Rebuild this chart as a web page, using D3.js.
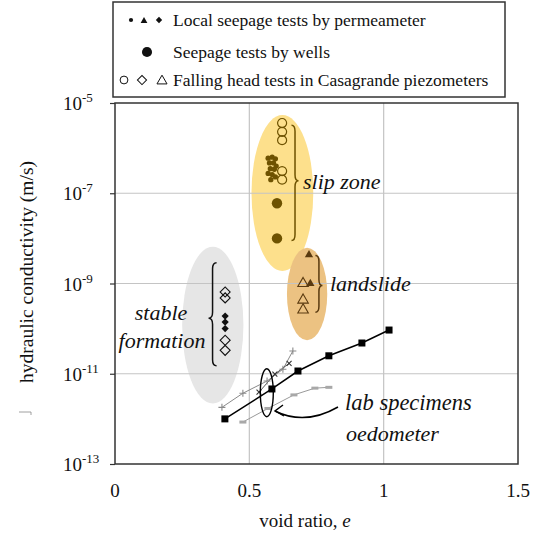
<!DOCTYPE html>
<html>
<head>
<meta charset="utf-8">
<script src="https://cdn.jsdelivr.net/npm/d3@7"></script>
<style>
  html, body { margin: 0; padding: 0; background: #fff; }
  svg, svg text { font-family: "Liberation Serif", "Times New Roman", Times, serif; }
  svg { display: block; }
</style>
</head>
<body>
<svg id="chart" width="537" height="533"></svg>
<script>
// ---- data: void ratio e and hydraulic conductivity k (m/s) ----
const xTicks = [0, 0.5, 1, 1.5];
const xTickLabels = ["0", "0.5", "1", "1.5"];
const yTicks = [1e-5, 1e-7, 1e-9, 1e-11, 1e-13];
const yTickExponents = ["-5", "-7", "-9", "-11", "-13"];

// slip zone
const slipPermeameterE = [0.570, 0.585, 0.597, 0.575, 0.590, 0.600, 0.578, 0.593, 0.570, 0.585, 0.580, 0.597];
const slipPermeameterK = [6.0e-7, 6.3e-7, 5.8e-7, 4.7e-7, 4.7e-7, 4.0e-7, 3.5e-7, 3.4e-7, 2.75e-7, 2.6e-7, 2.0e-7, 2.3e-7];
const slipWellsE = [0.603, 0.603];
const slipWellsK = [6.0e-8, 1.0e-8];
const slipPiezoE = [0.622, 0.622, 0.622, 0.622, 0.622];
const slipPiezoK = [3.6e-6, 2.3e-6, 1.5e-6, 3.1e-7, 2.0e-7];

// landslide body
const slidePermeameterE = [0.722, 0.727];
const slidePermeameterK = [4.3e-9, 1.0e-9];
const slidePiezoE = [0.700, 0.700, 0.700];
const slidePiezoK = [1.0e-9, 4.3e-10, 2.6e-10];

// stable formation
const stablePermeameterE = [0.41, 0.41, 0.41];
const stablePermeameterK = [1.9e-10, 1.4e-10, 1.0e-10];
const stablePiezoE = [0.41, 0.41, 0.41, 0.41];
const stablePiezoK = [6.5e-10, 4.8e-10, 5.5e-11, 3.3e-11];

// oedometer tests on lab specimens
const oedoAE = [0.409, 0.584, 0.681, 0.796, 0.919, 1.02];
const oedoAK = [1.0e-12, 4.6e-12, 1.15e-11, 2.5e-11, 4.8e-11, 9.3e-11];
const oedoBE = [0.476, 0.569, 0.666, 0.744, 0.796];
const oedoBK = [8.5e-13, 1.7e-12, 3.4e-12, 4.8e-12, 5.0e-12];
const oedoCE = [0.398, 0.476, 0.566, 0.625, 0.662];
const oedoCK = [1.8e-12, 3.7e-12, 6.9e-12, 1.26e-11, 3.2e-11];
const oedoDE = [0.536, 0.595, 0.648];
const oedoDK = [3.9e-12, 9.8e-12, 1.7e-11];

const legendLabels = [
  "Local seepage tests by permeameter",
  "Seepage tests by wells",
  "Falling head tests in Casagrande piezometers"
];

// ---- layout ----
const svg = d3.select("#chart");
const x = d3.scaleLinear().domain([0, 1.5]).range([115, 518]);
const y = d3.scaleLog().domain([1e-13, 1e-5]).range([464, 103]);

const serif = "'Liberation Serif', 'Times New Roman', Times, serif";
const olive = "#6e5200";
const brown = "#5a3a10";
const zip = (a, b) => a.map((v, i) => [v, b[i]]);

// zone ellipses, given by their extent in e and k
function zone(e0, e1, k0, k1, fill) {
  svg.append("ellipse")
    .attr("cx", (x(e0) + x(e1)) / 2).attr("cy", (y(k0) + y(k1)) / 2)
    .attr("rx", Math.abs(x(e1) - x(e0)) / 2)
    .attr("ry", Math.abs(y(k1) - y(k0)) / 2)
    .attr("fill", fill);
}
zone(0.25, 0.478, 6.5e-9, 2.2e-12, "#e6e6e6");
zone(0.508, 0.738, 5.4e-6, 1.9e-9, "#fde08c");
zone(0.64, 0.79, 6.2e-9, 5.5e-11, "#ecc282");

// grid lines
svg.append("g").selectAll("line").data([0.5, 1]).join("line")
  .attr("x1", d => x(d)).attr("x2", d => x(d))
  .attr("y1", y(1e-5)).attr("y2", y(1e-13))
  .attr("stroke", "#c4c4c4").attr("stroke-width", 1.2);
svg.append("g").selectAll("line").data([1e-7, 1e-9, 1e-11]).join("line")
  .attr("x1", x(0)).attr("x2", x(1.5))
  .attr("y1", d => y(d)).attr("y2", d => y(d))
  .attr("stroke", "#c4c4c4").attr("stroke-width", 1.2);

// frame
svg.append("rect")
  .attr("x", x(0)).attr("y", y(1e-5))
  .attr("width", x(1.5) - x(0)).attr("height", y(1e-13) - y(1e-5))
  .attr("fill", "none").attr("stroke", "#333").attr("stroke-width", 1.5);

// y axis ticks
const yAxis = d3.axisLeft(y).tickValues(yTicks).tickSize(5).tickFormat("");
const yg = svg.append("g").attr("transform", `translate(${x(0)},0)`).call(yAxis);
yg.select(".domain").remove();
yg.selectAll("line").attr("stroke", "#333").attr("stroke-width", 1.2);

// y tick labels 10^n
yTicks.forEach((t, i) => {
  const txt = svg.append("text")
    .attr("x", 63).attr("y", y(t) + 7)
    .attr("font-family", serif).attr("font-size", 19).attr("fill", "#111");
  txt.append("tspan").text("10");
  txt.append("tspan").attr("font-size", 13).attr("dy", -8).text(yTickExponents[i]);
});

// x tick labels
svg.append("g").selectAll("text").data(xTicks).join("text")
  .attr("x", d => x(d)).attr("y", 497)
  .attr("font-family", serif)
  .attr("text-anchor", "middle").attr("font-size", 19).attr("fill", "#111")
  .text((d, i) => xTickLabels[i]);

// axis titles
const xt = svg.append("text")
  .attr("x", 305).attr("y", 527).attr("font-family", serif)
  .attr("text-anchor", "middle").attr("font-size", 19).attr("fill", "#111");
xt.append("tspan").text("void ratio, ");
xt.append("tspan").attr("font-style", "italic").text("e");

svg.append("text")
  .attr("transform", "translate(33,272) rotate(-90)").attr("font-family", serif)
  .attr("text-anchor", "middle").attr("font-size", 19.5).attr("fill", "#111")
  .text("hydraulic conductivity (m/s)");
svg.append("path")
  .attr("d", "M19,412 L31,412 L31,415")
  .attr("fill", "none").attr("stroke", "#888").attr("stroke-width", 0.8);

// curly braces
function brace(e, kTop, kBot, kMid, depth, color) {
  const x0 = x(e), y1 = y(kTop), y2 = y(kBot), ym = y(kMid);
  const h = depth / 2, r = 6;
  const d = `M${x0},${y1} Q${x0 + h},${y1} ${x0 + h},${y1 + r} L${x0 + h},${ym - r} ` +
            `Q${x0 + h},${ym} ${x0 + depth},${ym} Q${x0 + h},${ym} ${x0 + h},${ym + r} ` +
            `L${x0 + h},${y2 - r} Q${x0 + h},${y2} ${x0},${y2}`;
  svg.append("path").attr("d", d).attr("fill", "none")
    .attr("stroke", color).attr("stroke-width", 1.5);
}
brace(0.657, 3.2e-6, 9.0e-9, 1.9e-7, 7, olive);
brace(0.746, 4.2e-9, 2.3e-10, 9.0e-10, 7, brown);
brace(0.378, 2.9e-9, 1.5e-11, 1.7e-10, -8, "#111");

// markers
function marks(es, ks, type, size, fill, stroke, sw, rot = 0) {
  svg.append("g").selectAll("path").data(zip(es, ks)).join("path")
    .attr("d", d3.symbol().type(type).size(size))
    .attr("transform", d => `translate(${x(d[0])},${y(d[1])}) rotate(${rot})`)
    .attr("fill", fill).attr("stroke", stroke).attr("stroke-width", sw);
}
marks(slipPiezoE, slipPiezoK, d3.symbolCircle, 64, "none", olive, 1.2);
marks(slipPermeameterE, slipPermeameterK, d3.symbolCircle, 22, olive, "none", 0);
marks(slipWellsE, slipWellsK, d3.symbolCircle, 85, olive, "none", 0);

marks(slidePiezoE, slidePiezoK, d3.symbolTriangle, 48, "none", brown, 1.1);
marks(slidePermeameterE, slidePermeameterK, d3.symbolTriangle, 30, brown, "none", 0);

marks(stablePiezoE, stablePiezoK, d3.symbolSquare, 50, "none", "#111", 1.1, 45);
marks(stablePermeameterE, stablePermeameterK, d3.symbolSquare, 26, "#111", "none", 0, 45);

// oedometer curves
const line = d3.line().x(d => x(d[0])).y(d => y(d[1]));
svg.append("path").attr("d", line(zip(oedoCE, oedoCK)))
  .attr("fill", "none").attr("stroke", "#8a8a8a").attr("stroke-width", 1);
svg.append("path").attr("d", line(zip(oedoDE, oedoDK)))
  .attr("fill", "none").attr("stroke", "#555").attr("stroke-width", 1);
svg.append("path").attr("d", line(zip(oedoBE, oedoBK)))
  .attr("fill", "none").attr("stroke", "#9a9a9a").attr("stroke-width", 1);
svg.append("path").attr("d", line(zip(oedoAE, oedoAK)))
  .attr("fill", "none").attr("stroke", "#000").attr("stroke-width", 1.5);

// thin plus / cross markers
function crossMarks(es, ks, size, color, rot) {
  svg.append("g").selectAll("path").data(zip(es, ks)).join("path")
    .attr("d", `M${-size},0 L${size},0 M0,${-size} L0,${size}`)
    .attr("transform", d => `translate(${x(d[0])},${y(d[1])}) rotate(${rot})`)
    .attr("stroke", color).attr("stroke-width", 1.1).attr("fill", "none");
}
crossMarks(oedoCE, oedoCK, 3.5, "#8a8a8a", 0);
crossMarks(oedoDE, oedoDK, 3.5, "#333", 45);
svg.append("g").selectAll("rect").data(zip(oedoBE, oedoBK)).join("rect")
  .attr("x", d => x(d[0]) - 3.5).attr("y", d => y(d[1]) - 1.5)
  .attr("width", 7).attr("height", 3).attr("fill", "#a8a8a8");
svg.append("g").selectAll("rect").data(zip(oedoAE, oedoAK)).join("rect")
  .attr("x", d => x(d[0]) - 3.5).attr("y", d => y(d[1]) - 3.5)
  .attr("width", 7).attr("height", 7).attr("fill", "#000");

// ellipse grouping the specimens at e ≈ 0.56
svg.append("ellipse")
  .attr("cx", x(0.565)).attr("cy", y(3.8e-12))
  .attr("rx", 6.5).attr("ry", 24)
  .attr("fill", "none").attr("stroke", "#000").attr("stroke-width", 1.4);

// arrow to the specimens
const ax0 = 338, ay0 = 407, ax1 = 275, ay1 = 411;
svg.append("path")
  .attr("d", `M${ax0},${ay0} Q${305},${426} ${ax1},${ay1}`)
  .attr("fill", "none").attr("stroke", "#000").attr("stroke-width", 1.5);
svg.append("path")
  .attr("d", `M${ax1 + 8},${ay1 - 6} L${ax1},${ay1} L${ax1 + 9},${ay1 + 5}`)
  .attr("fill", "none").attr("stroke", "#000").attr("stroke-width", 1.4);

// zone labels
function label(px, py, txt, anchor = "start", size = 22) {
  svg.append("text").attr("x", px).attr("y", py).attr("font-family", serif)
    .attr("text-anchor", anchor).attr("font-size", size).attr("font-style", "italic")
    .attr("fill", "#111").text(txt);
}
label(303, 189, "slip zone");
label(330, 291, "landslide");
label(161, 320, "stable", "middle");
label(162, 348, "formation", "middle");
label(345, 410, "lab specimens", "start", 22.5);
label(346, 441, "oedometer");

// legend
const lg = svg.append("g");
lg.append("rect").attr("x", 113).attr("y", 2).attr("width", 392).attr("height", 95)
  .attr("fill", "#fff").attr("stroke", "#333").attr("stroke-width", 1.5);
const rowsY = [20, 52, 80];
legendLabels.forEach((t, i) => {
  lg.append("text").attr("x", 173).attr("y", rowsY[i] + 6).attr("font-family", serif)
    .attr("font-size", 17.5).attr("fill", "#111").text(t);
});
function legSym(px, py, type, size, fill, stroke, rot = 0) {
  lg.append("path").attr("d", d3.symbol().type(type).size(size))
    .attr("transform", `translate(${px},${py}) rotate(${rot})`)
    .attr("fill", fill).attr("stroke", stroke).attr("stroke-width", 1);
}
legSym(131, 20, d3.symbolCircle, 14, "#111", "none");
legSym(144, 21, d3.symbolTriangle, 20, "#111", "none");
legSym(159, 20, d3.symbolSquare, 20, "#111", "none", 45);
legSym(147, 52, d3.symbolCircle, 80, "#111", "none");
legSym(124, 80, d3.symbolCircle, 48, "none", "#111");
legSym(142, 80, d3.symbolSquare, 42, "none", "#111", 45);
legSym(162, 81, d3.symbolTriangle, 44, "none", "#111");
</script>
</body>
</html>
